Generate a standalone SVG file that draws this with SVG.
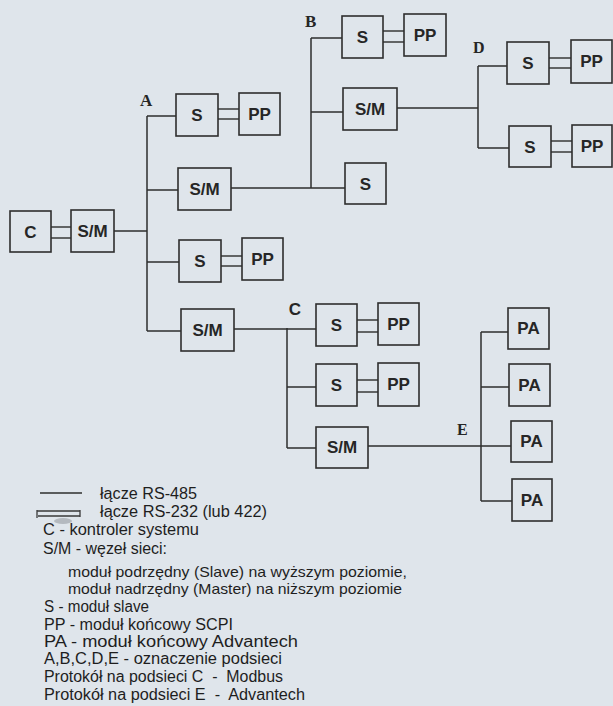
<svg xmlns="http://www.w3.org/2000/svg" width="613" height="706" viewBox="0 0 613 706">
<style>
.bx{fill:none;stroke:#2e2e2e;stroke-width:1.6}
.ln{fill:none;stroke:#2e2e2e;stroke-width:1.5}
.dl{fill:none;stroke:#3a3a3a;stroke-width:1.3}
.lbl{font-family:"Liberation Sans",Arial,sans-serif;font-weight:bold;font-size:17px;fill:#262626;text-anchor:middle}
.net{font-family:"Liberation Serif","Times New Roman",serif;font-weight:bold;font-size:17px;fill:#262626}
.lg{font-family:"Liberation Sans",Arial,sans-serif;font-size:16px;fill:#1e1e1e;white-space:pre}
.lg2{font-family:"Liberation Sans",Arial,sans-serif;font-size:15px;fill:#1e1e1e}
</style>
<rect x="0" y="0" width="613" height="706" fill="#dfe5eb"/>
<g id="connectors">
<path class="dl" d="M51 227H71M51 238H71"/>
<path class="ln" d="M114 231H147M147 116V331M147 116H176M147 190H178M147 262H179M147 331H181"/>
<path class="dl" d="M218 109H239M218 119H239M221 256H242M221 266H242"/>
<path class="ln" d="M231 188H345M311 38V188M311 38H342M311 112H343"/>
<path class="dl" d="M383 31H404M383 42H404"/>
<path class="ln" d="M397 108H478M478 66V148M478 66H507M478 148H509"/>
<path class="dl" d="M549 58H571M549 68H571M551 141H572M551 152H572"/>
<path class="ln" d="M234 329H316M287 328V448M287 387H316M287 448H316"/>
<path class="dl" d="M357 320H378M357 332H378M357 380H378M357 392H378"/>
<path class="ln" d="M368 446H511M481 332V501M481 332H508M481 387H509M481 501H512"/>
</g>
<g id="labels-subnets">
<text class="net" x="140" y="106">A</text>
<text class="net" x="305" y="27">B</text>
<text class="net" x="473" y="53" style="font-size:16px">D</text>
<text class="net" x="457" y="435" style="font-size:16px">E</text>
<text class="lbl" x="295" y="315">C</text>
</g>
<g id="node-C"><rect class="bx" x="10" y="211" width="41" height="41"/><text class="lbl" x="30.5" y="238">C</text></g>
<g id="node-SM0"><rect class="bx" x="71" y="210" width="43" height="42"/><text class="lbl" x="92.5" y="237">S/M</text></g>
<g id="node-A-S1"><rect class="bx" x="176" y="94" width="42" height="42"/><text class="lbl" x="197" y="121">S</text></g>
<g id="node-A-PP1"><rect class="bx" x="239" y="93" width="41" height="42"/><text class="lbl" x="259.5" y="120">PP</text></g>
<g id="node-A-SM2"><rect class="bx" x="178" y="168" width="53" height="42"/><text class="lbl" x="204.5" y="195">S/M</text></g>
<g id="node-A-S3"><rect class="bx" x="179" y="240" width="42" height="42"/><text class="lbl" x="200" y="267">S</text></g>
<g id="node-A-PP3"><rect class="bx" x="242" y="238" width="41" height="42"/><text class="lbl" x="262.5" y="265">PP</text></g>
<g id="node-A-SM4"><rect class="bx" x="181" y="309" width="53" height="42"/><text class="lbl" x="207.5" y="336">S/M</text></g>
<g id="node-B-S1"><rect class="bx" x="342" y="16" width="41" height="42"/><text class="lbl" x="362.5" y="43">S</text></g>
<g id="node-B-PP1"><rect class="bx" x="404" y="14" width="42" height="42"/><text class="lbl" x="425" y="41">PP</text></g>
<g id="node-B-SM2"><rect class="bx" x="343" y="88" width="54" height="42"/><text class="lbl" x="370" y="115">S/M</text></g>
<g id="node-B-S3"><rect class="bx" x="345" y="163" width="41" height="41"/><text class="lbl" x="365.5" y="190">S</text></g>
<g id="node-D-S1"><rect class="bx" x="507" y="42" width="42" height="42"/><text class="lbl" x="528" y="69">S</text></g>
<g id="node-D-PP1"><rect class="bx" x="571" y="40" width="41" height="43"/><text class="lbl" x="591.5" y="67">PP</text></g>
<g id="node-D-S2"><rect class="bx" x="509" y="126" width="42" height="41"/><text class="lbl" x="530" y="153">S</text></g>
<g id="node-D-PP2"><rect class="bx" x="572" y="125" width="40" height="42"/><text class="lbl" x="592" y="152">PP</text></g>
<g id="node-C-S1"><rect class="bx" x="316" y="304" width="41" height="42"/><text class="lbl" x="336.5" y="331">S</text></g>
<g id="node-C-PP1"><rect class="bx" x="378" y="303" width="41" height="42"/><text class="lbl" x="398.5" y="330">PP</text></g>
<g id="node-C-S2"><rect class="bx" x="316" y="364" width="41" height="42"/><text class="lbl" x="336.5" y="391">S</text></g>
<g id="node-C-PP2"><rect class="bx" x="378" y="363" width="41" height="43"/><text class="lbl" x="398.5" y="390">PP</text></g>
<g id="node-C-SM3"><rect class="bx" x="316" y="427" width="52" height="41"/><text class="lbl" x="342" y="453">S/M</text></g>
<g id="node-PA1"><rect class="bx" x="508" y="308" width="41" height="41"/><text class="lbl" x="528.5" y="334">PA</text></g>
<g id="node-PA2"><rect class="bx" x="509" y="364" width="41" height="42"/><text class="lbl" x="529.5" y="391">PA</text></g>
<g id="node-PA3"><rect class="bx" x="511" y="421" width="41" height="41"/><text class="lbl" x="531.5" y="447">PA</text></g>
<g id="node-PA4"><rect class="bx" x="512" y="479" width="40" height="42"/><text class="lbl" x="532" y="506">PA</text></g>
<g id="legend">
<path class="ln" d="M40 493H82"/>
<path class="dl" d="M37 511H80M38 516H80M37 510V518M80 510V517"/>
<ellipse cx="63" cy="521" rx="9" ry="3" fill="#b4b9bf"/>
<text class="lg" x="100" y="499" textLength="97" lengthAdjust="spacingAndGlyphs">łącze RS-485</text>
<text class="lg" x="100" y="517" textLength="167" lengthAdjust="spacingAndGlyphs">łącze RS-232 (lub 422)</text>
<text class="lg" x="43" y="535" textLength="156" lengthAdjust="spacingAndGlyphs">C - kontroler systemu</text>
<text class="lg" x="43" y="554" textLength="124" lengthAdjust="spacingAndGlyphs">S/M - węzeł sieci:</text>
<text class="lg2" x="68" y="577" textLength="339" lengthAdjust="spacingAndGlyphs">moduł podrzędny (Slave) na wyższym poziomie,</text>
<text class="lg2" x="68" y="594" textLength="334" lengthAdjust="spacingAndGlyphs">moduł nadrzędny (Master) na niższym poziomie</text>
<text class="lg" x="44" y="612" textLength="105" lengthAdjust="spacingAndGlyphs">S - moduł slave</text>
<text class="lg" x="44" y="630" textLength="189" lengthAdjust="spacingAndGlyphs">PP - moduł końcowy SCPI</text>
<text class="lg" x="44" y="647" textLength="254" lengthAdjust="spacingAndGlyphs">PA - moduł końcowy Advantech</text>
<text class="lg" x="44" y="664" textLength="238" lengthAdjust="spacingAndGlyphs">A,B,C,D,E - oznaczenie podsieci</text>
<text class="lg" x="44" y="682" textLength="239" lengthAdjust="spacingAndGlyphs">Protokół na podsieci C  -  Modbus</text>
<text class="lg" x="44" y="700" textLength="261" lengthAdjust="spacingAndGlyphs">Protokół na podsieci E  -  Advantech</text>
</g>
</svg>
